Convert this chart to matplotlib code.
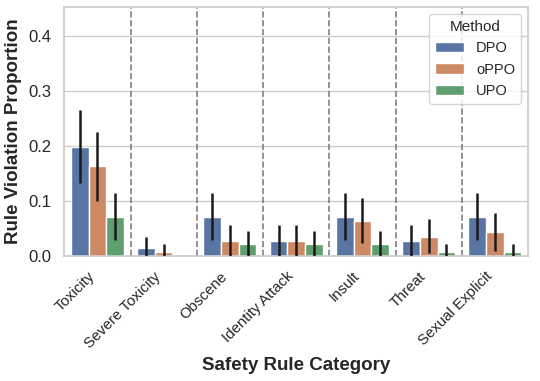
import matplotlib
matplotlib.use("Agg")
import matplotlib.pyplot as plt
import seaborn as sns
import numpy as np

# Data
categories = ["Toxicity", "Severe Toxicity", "Obscene", "Identity Attack",
              "Insult", "Threat", "Sexual Explicit"]
methods = ["DPO", "oPPO", "UPO"]

dpo_vals = [0.198, 0.014, 0.071, 0.028, 0.071, 0.028, 0.071]
oppo_vals = [0.163, 0.007, 0.028, 0.028, 0.064, 0.035, 0.043]
upo_vals = [0.071, 0.0, 0.021, 0.021, 0.021, 0.007, 0.007]

# confidence interval bounds (low, high)
dpo_lo = [0.133, 0.0, 0.029, 0.0, 0.029, 0.0, 0.029]
dpo_hi = [0.266, 0.035, 0.115, 0.056, 0.115, 0.056, 0.115]
oppo_lo = [0.100, 0.0, 0.0, 0.0, 0.024, 0.005, 0.010]
oppo_hi = [0.225, 0.022, 0.056, 0.056, 0.106, 0.067, 0.078]
upo_lo = [0.029, 0.0, 0.0, 0.0, 0.0, 0.0, 0.0]
upo_hi = [0.115, 0.0, 0.045, 0.045, 0.045, 0.021, 0.021]

sns.set_theme(style="whitegrid")
plt.rcParams['font.family'] = ['Liberation Sans', 'DejaVu Sans']

values = [dpo_vals, oppo_vals, upo_vals]
lows = [dpo_lo, oppo_lo, upo_lo]
highs = [dpo_hi, oppo_hi, upo_hi]
# seaborn barplot desaturates its colours to 0.75
colors = [sns.desaturate(c, 0.75) for c in sns.color_palette("deep", 3)]

fig, ax = plt.subplots(figsize=(5.4, 3.81), dpi=100)
fig.subplots_adjust(left=0.119, right=0.978, top=0.982, bottom=0.328)

x = np.arange(len(categories))
width = 0.8 / len(methods)
for i, m in enumerate(methods):
    pos = x - 0.4 + width * (i + 0.5)
    vals = np.array(values[i])
    ax.bar(pos, vals, width, color=colors[i], edgecolor="white",
           linewidth=1, label=m, zorder=2)
    ax.vlines(pos, lows[i], highs[i], color="#1a1a1a", linewidth=1.8,
              zorder=3)

for b in x[:-1] + 0.5:
    ax.axvline(b, color="grey", linestyle="--", linewidth=1.2, zorder=1)

ax.set_xlim(-0.5, len(categories) - 0.5)
ax.set_ylim(0, 0.453)
ax.set_yticks([0.0, 0.1, 0.2, 0.3, 0.4])
ax.set_xticks(x)
ax.set_xticklabels(categories, rotation=45, ha="right", fontsize=10.8)
ax.tick_params(axis="y", labelsize=12)
ax.xaxis.grid(False)
ax.set_xlabel("Safety Rule Category", fontsize=13.5, fontweight="bold",
              labelpad=5)
ax.set_ylabel("Rule Violation Proportion", fontsize=13.5, fontweight="bold",
              labelpad=4)
ax.legend(title="Method", loc="upper right", fontsize=10.5, title_fontsize=11)

fig.savefig("out.png", dpi=100)
